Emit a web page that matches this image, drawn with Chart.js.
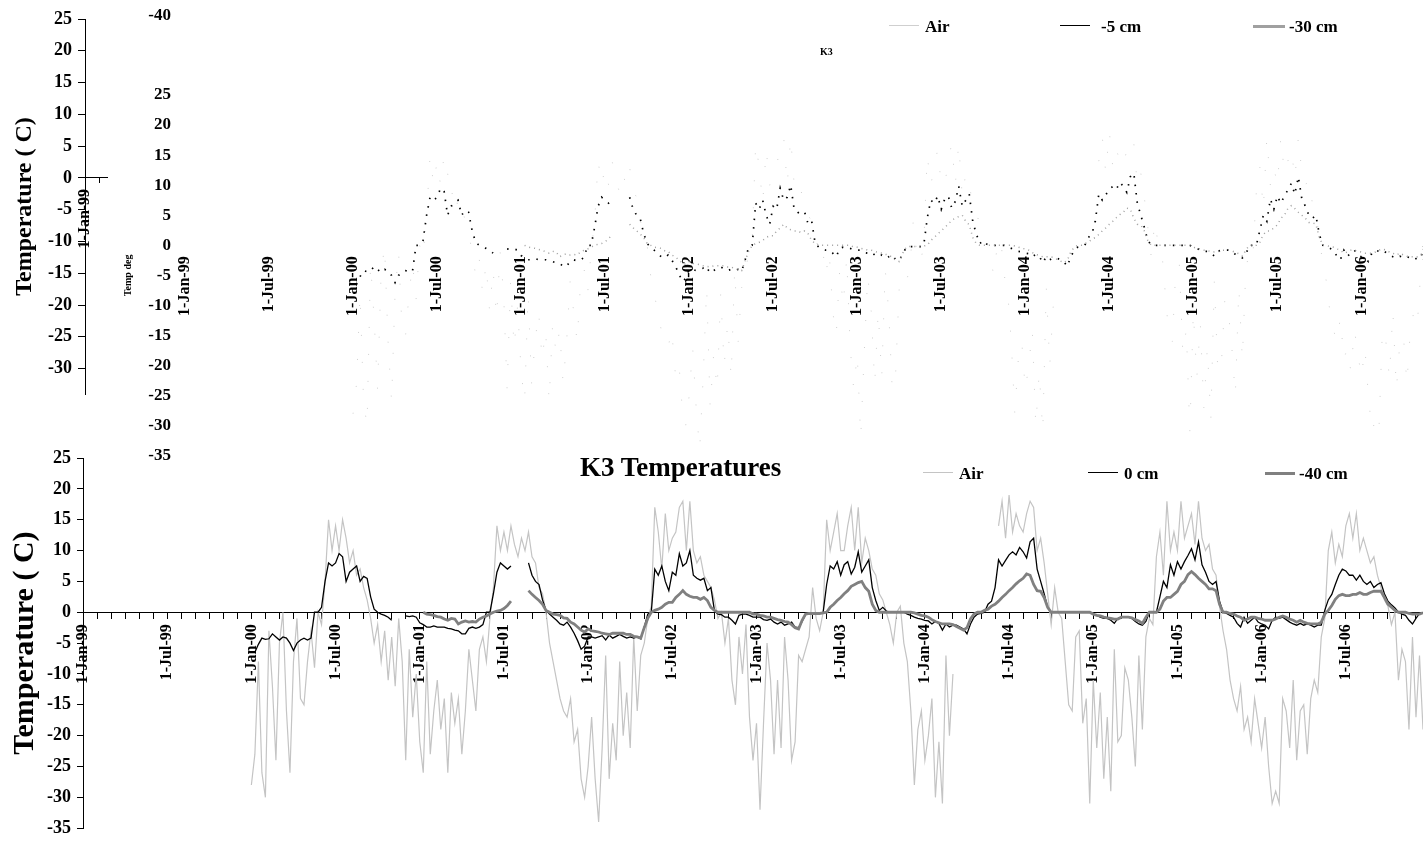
<!DOCTYPE html>
<html>
<head>
<meta charset="utf-8">
<title>K3 Temperatures</title>
<script src="https://cdn.jsdelivr.net/npm/chart.js@4.4.1/dist/chart.umd.min.js"></script>
<style>
  html, body { margin: 0; padding: 0; background: #fff; }
  #page { position: relative; width: 1423px; height: 845px; overflow: hidden;
          font-family: "Liberation Serif", "Times New Roman", serif; font-weight: bold; color: #000; }
  #page canvas { position: absolute; }
  .txt { position: absolute; white-space: nowrap; line-height: 1; }
  .key { position: absolute; height: 0; }
</style>
</head>
<body>
<div id="page">
  <canvas id="outer" width="130" height="420" style="left:0px;top:0px"></canvas>
  <canvas id="ghost" width="1323" height="480" style="left:100px;top:0px"></canvas>
  <canvas id="main" width="1423" height="405" style="left:0px;top:440px"></canvas>
  <div class="txt" style="left:110px;width:61px;text-align:right;top:6px;font-size:17px">-40</div>
  <div class="txt" style="left:820px;top:47px;font-size:10px">K3</div>
  <div class="txt" style="left:580px;top:454px;font-size:27px">K3 Temperatures</div>
</div>
<script>
// x values are months since 1-Jan-99, one reading every quarter month
const STEP = 0.25;

const airStart = 12;
const airTemp = [
  // 2000
  -28, -23, -8, -26, -30, -3, -12, -24, -5, 0, -16, -26,
  -8, -1, -14, -15, -8, -3, -9, 0, -2, 5, 15, 10,
  14, 10, 15, 12, 8, 10, 6, 7, 4, 2, -1, -5,
  -2, -8, -3, -11, -4, -12, -1, -8, -24, -6, -17, -10,
  // 2001
  -21, -26, -8, -23, -16, -11, -19, -14, -26, -13, -18, -14,
  -23, -16, -6, -11, -16, -6, -4, -8, -1, 4, 14, 10,
  13, 10, 14, 11, 9, 12, 10, 13, 9, 8, 4, 3,
  0, -5, -8, -11, -14, -16, -17, -14, -21, -19, -27, -30,
  // 2002
  -25, -17, -27, -34, -22, -7, -27, -18, -24, -8, -20, -13,
  -22, -4, -16, -7, -5, -1, 1, 17, 13, 7, 16, 10,
  12, 13, 17, 18, 10, 18, 10, 8, 9, 6, 5, 4,
  2, -1, 0, -5, -1, -11, -15, -4, -10, -2, -17, -24,
  // 2003
  -18, -32, -18, -5, -11, -23, -11, -22, -4, -11, -24, -21,
  -7, -8, -6, -4, 4, -1, -3, 0, 15, 10, 13, 16,
  10, 10, 14, 17, 10, 17, 8, 12, 10, 7, 6, 3,
  2, 0, -2, -5, 0, 1, -5, -8, -16, -28, -19, -16,
  // 2004 (logger gap in spring)
  -24, -20, -14, -30, -21, -31, -7, -20, -10, null, null, null,
  null, null, null, null, null, null, null, null, null, 14, 18, 12,
  19, 13, 16, 14, 13, 16, 18, 17, 10, 12, 8, 3,
  -2, 4, 0, -1, -8, -15, -16, -4, -3, -18, -14, -31,
  // 2005
  -11, -22, -13, -27, -17, -29, -6, -21, -20, -9, -11, -17,
  -25, -7, -19, -4, -1, -2, 9, 13, 6, 18, 10, 13,
  10, 18, 12, 14, 16, 11, 18, 12, 10, 11, 7, 6,
  1, -3, -6, -11, -14, -16, -12, -19, -17, -21, -14, -18,
  // 2006
  -22, -17, -25, -31, -29, -31, -14, -16, -22, -11, -24, -16,
  -15, -23, -14, -11, -13, -4, -1, 10, 13, 8, 11, 9,
  14, 16, 12, 16, 10, 12, 10, 8, 9, 6, 4, 2,
  1, -2, 0, -11, -6, -8, -19, -4, -17, -7, -19
];

const soil0Start = 12;
const soil0 = [
  // 2000
  null, -6.5, -5.2, -4.2, -4.4, -4.3, -3.5, -4, -4.5, -4, -4.2, -5,
  -6.2, -5, -4.5, -4.2, -4.5, -4.2, 0, 0, 0.8, 5, 8, 7.5,
  8, 9.5, 9, 5, 6.5, 7, 7.5, 5, 5.8, 5.5, 2.5, 0.5,
  0, -0.3, -0.5, -0.8, -1.3, null, null, null, -0.6, -0.7, -0.6, -0.8,
  // 2001
  -1.7, -2, -2.4, -2.4, -2.2, -2.4, -2.4, -2.4, -2.6, -2.7, -2.9, -3,
  -3.5, -3.5, -2.6, -2.4, -2.6, -2.4, -2, 0, 0, 3, 6.5, 8,
  7.5, 7, 7.5, null, null, null, null, 8, 6, 5, 4.5, 2,
  0.3, -0.3, -0.8, -1.3, -1.9, -2.1, -1.6, -2.4, -3.4, -4.6, -6, -5.5,
  // 2002
  -4, -4, -4.2, -4, -3.8, -4.5, -3.7, -4.2, -3.9, -3.6, -3.9, -4.2,
  -4, -4.2, -4, -4.3, -2.4, -0.3, 0, 7, 6, 7.5, 5, 3.5,
  6.5, 6, 9.5, 7.5, 8, 10, 6, 5.5, 5.2, 5.5, 3.5, 4,
  0.3, -0.3, -0.4, -0.8, -0.8, -1.3, -1.9, -0.5, -0.3, -0.3, -0.5, -0.8,
  // 2003
  -0.8, -0.8, -1.2, -1.3, -1.1, -1.6, -1.9, -1.6, -2.1, -1.9, -1.6, -2.4,
  -2.5, -1.5, -0.3, -0.2, -0.2, -0.2, -0.2, 0, 4.5, 7.5, 7, 8.2,
  6, 7.7, 8.2, 6.2, 7.3, 9.8, 6.5, 7.5, 8.5, 4, 1.9, 0.3,
  0.8, 0.2, 0, 0, 0, 0, 0, -0.3, -0.5, -0.8, -1, -1.1,
  // 2004
  -1.3, -1.4, -1.9, -1.5, -1.8, -2.9, -1.9, -2.4, -2.1, -2.1, -2.4, -2.7,
  -3.5, -1.9, -0.8, -0.3, -0.2, 0, 1.3, 1.8, 4, 8.5, 7.5, 8.4,
  9.3, 9.8, 9.3, 10.5, 9.8, 8.8, 11.4, 12, 7, 5, 3, 0.8,
  0, 0, 0, 0, 0, 0, 0, 0, 0, 0, 0, 0,
  // 2005
  -0.3, -0.5, -0.8, -1, -1, -1.3, -1.8, -1, -0.8, -0.8, -0.8, -1,
  -1.5, -1.9, -2.1, -1.5, 0, 0, 0, 2.5, 5, 4, 7.7, 6,
  8.2, 7, 8.2, 9.2, 10.3, 8.5, 11.4, 7.7, 6.5, 5, 4.5, 5,
  1.8, 0, -0.2, -0.5, -0.8, -1.8, -2.4, -0.8, -1.8, -1.3, -0.8, -1.6,
  // 2006
  -1.9, -2.1, -2.7, -1.3, -0.8, -1, -0.8, -1.2, -1.6, -1.9, -2.1, -1.8,
  -2.1, -1.9, -2.1, -2.4, -2.1, -2.1, 0.3, 2, 2.9, 4.5, 6, 7,
  6.7, 6, 6, 5.2, 6, 5, 4.5, 5, 4, 4.5, 4.8, 3,
  1.8, 1.2, 0.7, 0, -0.3, -0.5, -1.3, -1.9, -1, -0.2, -0.1
];

const soil40Start = 24;
const soil40 = [
  // 2001
  null, 0, -0.3, -0.4, -0.5, -0.7, -0.8, -1.1, -1.3, -1, -1.1, -1.9,
  -1.6, -1.4, -1.6, -1.5, -1.6, -1.1, -0.8, -0.6, -0.3, 0, 0.2, 0.3,
  0.6, 1.1, 1.8, null, null, null, null, 3.5, 2.9, 2.4, 1.9, 1.3,
  0.3, 0, -0.3, -0.4, -0.5, -0.9, -1, -1.6, -1.9, -2.4, -2.9, -3.2,
  // 2002
  -2.7, -3, -3.1, -3.2, -3.4, -3.5, -3.6, -3.4, -3.4, -3.4, -3.4, -3.6,
  -3.6, -3.9, -4, -4.2, -2.5, -1, 0, 0.3, 0.5, 0.8, 1.3, 1.6,
  1.6, 2.4, 2.9, 3.5, 2.9, 2.6, 2.4, 2.4, 2.1, 2.4, 1.9, 0.8,
  0.3, 0, 0, 0, 0, 0, 0, 0, 0, 0, 0, -0.3,
  // 2003
  -0.3, -0.5, -0.6, -0.8, -0.8, -1, -1.2, -1.3, -1.5, -1.6, -2, -2.5,
  -2.7, -1.3, -0.3, -0.2, -0.2, -0.2, -0.2, -0.1, 0, 0.8, 1.3, 1.9,
  2.4, 3, 3.5, 4.2, 4.5, 4.8, 5, 4, 3.4, 1.3, 0.3, 0,
  0, 0, 0, 0, 0, 0, 0, 0, 0, -0.1, -0.3, -0.5,
  // 2004
  -0.6, -0.8, -1.2, -1.5, -1.7, -1.9, -1.9, -1.9, -2, -2.3, -2.6, -2.9,
  -2.5, -1.1, -0.3, 0, 0, 0.3, 0.5, 1, 1.3, 1.8, 2.4, 2.9,
  3.5, 4, 4.6, 5.1, 5.5, 6.2, 6, 4.5, 3.5, 3.4, 2.4, 0.8,
  0, 0, 0, 0, 0, 0, 0, 0, 0, 0, 0, 0,
  // 2005
  -0.3, -0.5, -0.6, -0.8, -0.9, -1, -1.1, -1.1, -0.8, -0.8, -0.8, -0.9,
  -1.2, -1.4, -1.8, -0.8, 0, 0, 0, 0.5, 1.8, 2.4, 2.4, 2.9,
  3.4, 4.5, 5, 6.1, 6.6, 6.1, 5.5, 5, 4.5, 3.8, 3.8, 3.5,
  1.3, 0, 0, -0.2, -0.3, -0.6, -0.8, -1.3, -1.1, -0.8, -0.8, -1,
  // 2006
  -1.1, -1.3, -1.3, -1.3, -1.1, -0.8, -0.6, -0.8, -1.1, -1.3, -1.6, -1.3,
  -1.6, -1.8, -1.9, -1.9, -1.9, -1.6, -0.3, 0.3, 1.1, 2.1, 2.7, 2.9,
  2.7, 2.7, 2.9, 2.9, 3.2, 2.9, 2.9, 3.2, 3.4, 3.4, 3.4, 2.4,
  1.3, 0.8, 0.3, 0, 0, 0, -0.2, -0.3, -0.3, -0.3, -0.1
];

// one label every six months
const dateLabels = ['1-Jan-99', '1-Jul-99', '1-Jan-00', '1-Jul-00', '1-Jan-01', '1-Jul-01',
  '1-Jan-02', '1-Jul-02', '1-Jan-03', '1-Jul-03', '1-Jan-04', '1-Jul-04',
  '1-Jan-05', '1-Jul-05', '1-Jan-06', '1-Jul-06'];
const tempTicks = [25, 20, 15, 10, 5, 0, -5, -10, -15, -20, -25, -30, -35];

Chart.defaults.font.family = '"Liberation Serif", "Times New Roman", serif';
Chart.defaults.font.weight = 'bold';
Chart.defaults.color = '#000';
Chart.defaults.animation = false;
Chart.defaults.plugins.legend.display = false;
Chart.defaults.plugins.tooltip.enabled = false;
Chart.defaults.elements.point.radius = 0;
Chart.defaults.elements.line.tension = 0;

const points = (vals, start) => vals.map((v, i) => ({ x: start + i * STEP, y: v }));
const monthLabel = v => (v % 6 === 0 && dateLabels[v / 6]) ? dateLabels[v / 6] : '';

function monthTicks(every) {
  return scale => {
    const list = [];
    for (let m = 0; m <= scale.max; m += every) list.push({ value: m });
    scale.ticks = list;
  };
}
function tempTickList(scale) {
  scale.ticks = tempTicks.filter(v => v >= scale.min && v <= scale.max)
    .sort((a, b) => a - b).map(value => ({ value }));
}
const noSidePadding = s => { s.paddingLeft = 0; s.paddingRight = 0; };
const fixWidth = w => s => { s.width = w; };

// small leftover axis in the top left corner
new Chart(document.getElementById('outer'), {
  type: 'line',
  data: { datasets: [] },
  options: {
    responsive: false,
    layout: { padding: { top: 19, bottom: 26, left: 0, right: 23 } },
    scales: {
      x: {
        type: 'linear', min: 0, max: 1.57, position: { y: 0 },
        afterBuildTicks: monthTicks(1), afterFit: noSidePadding,
        grid: { drawOnChartArea: false, color: '#000', tickLength: 5 },
        border: { color: '#000' },
        ticks: { autoSkip: false, minRotation: 90, maxRotation: 90, padding: 6,
                 font: { size: 16 }, callback: monthLabel }
      },
      y: {
        min: -34, max: 25,
        afterBuildTicks: tempTickList, afterFit: fixWidth(85),
        grid: { drawOnChartArea: false, color: '#000', tickLength: 7 },
        border: { color: '#000' },
        ticks: { padding: 6, font: { size: 18 } },
        title: { display: true, text: 'Temperature ( C)', font: { size: 24 },
                 padding: { top: 10, bottom: 0 } }
      }
    }
  }
});

// dotted copy of the series behind the top half
const ghost = new Chart(document.getElementById('ghost'), {
  type: 'line',
  data: {
    datasets: [
      { label: 'Air', data: points(airTemp, airStart), borderColor: '#cfcfcf',
        borderWidth: 1, borderDash: [1, 26], order: 3 },
      { label: '-5 cm', data: points(soil0, soil0Start), borderColor: '#000',
        borderWidth: 1.7, borderDash: [1.5, 7], order: 2 },
      { label: '-30 cm', data: points(soil40, soil40Start), borderColor: '#a0a0a0',
        borderWidth: 1.5, borderDash: [1, 4], order: 1 }
    ]
  },
  options: {
    responsive: false,
    layout: { padding: { top: 95, bottom: 9, left: 0, right: 0 } },
    scales: {
      x: {
        type: 'linear', min: 0, max: 88.4, position: { y: 0 },
        afterBuildTicks: monthTicks(6), afterFit: noSidePadding,
        grid: { display: false, drawTicks: false },
        border: { display: false },
        ticks: { autoSkip: false, minRotation: 90, maxRotation: 90, padding: 11,
                 font: { size: 16 }, callback: monthLabel }
      },
      y: {
        min: -35, max: 25,
        afterBuildTicks: tempTickList, afterFit: fixWidth(85),
        grid: { display: false, drawTicks: false },
        border: { display: false },
        ticks: { padding: 14, font: { size: 17 } },
        title: { display: true, text: 'Temp deg', font: { size: 10 },
                 padding: { top: 22, bottom: 0 } }
      }
    }
  }
});

const main = new Chart(document.getElementById('main'), {
  type: 'line',
  data: {
    datasets: [
      { label: 'Air', data: points(airTemp, airStart), borderColor: '#c4c4c4',
        borderWidth: 1.2, order: 3 },
      { label: '0 cm', data: points(soil0, soil0Start), borderColor: '#000',
        borderWidth: 1.3, order: 2 },
      { label: '-40 cm', data: points(soil40, soil40Start), borderColor: '#808080',
        borderWidth: 2.8, order: 1 }
    ]
  },
  options: {
    responsive: false,
    layout: { padding: { top: 18, bottom: 13, left: 0, right: 0 } },
    scales: {
      x: {
        type: 'linear', min: 0, max: 95.5, position: { y: 0 },
        afterBuildTicks: monthTicks(1), afterFit: noSidePadding,
        grid: { drawOnChartArea: false, color: '#000', tickLength: 6 },
        border: { color: '#000' },
        ticks: { autoSkip: false, minRotation: 90, maxRotation: 90, padding: 6,
                 font: { size: 16 }, callback: monthLabel }
      },
      y: {
        min: -35, max: 25,
        afterBuildTicks: tempTickList, afterFit: fixWidth(83),
        grid: { drawOnChartArea: false, color: '#000', tickLength: 6 },
        border: { color: '#000' },
        ticks: { padding: 6, font: { size: 18 } },
        title: { display: true, text: 'Temperature ( C)', font: { size: 30 },
                 padding: { top: 7, bottom: 0 } }
      }
    }
  }
});

// legend rows: [line start, line end, text left, line width]
function placeKey(chart, slots, y) {
  const page = document.getElementById('page');
  chart.data.datasets.forEach((ds, i) => {
    const [x0, x1, tx, w] = slots[i];
    const line = document.createElement('div');
    line.className = 'key';
    line.style.left = x0 + 'px';
    line.style.width = (x1 - x0) + 'px';
    line.style.top = (y - w / 2) + 'px';
    line.style.borderTop = w + 'px solid ' + ds.borderColor;
    page.appendChild(line);
    const label = document.createElement('div');
    label.className = 'txt';
    label.style.left = tx + 'px';
    label.style.top = (y - 8.5) + 'px';
    label.style.fontSize = '17px';
    label.textContent = ds.label;
    page.appendChild(label);
  });
}
placeKey(ghost, [[889, 919, 925, 1.5], [1060, 1090, 1101, 1.5], [1253, 1285, 1289, 3]], 26);
placeKey(main, [[923, 953, 959, 1.5], [1088, 1118, 1124, 1.5], [1265, 1295, 1299, 3]], 473);
</script>
</body>
</html>
